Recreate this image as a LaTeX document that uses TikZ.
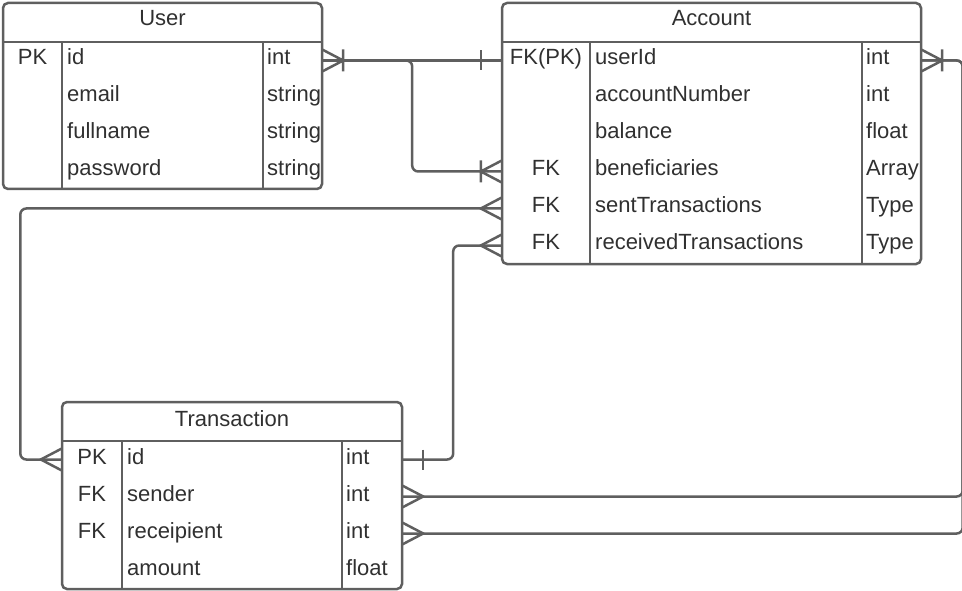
\documentclass[tikz,border=0pt]{standalone}
\usepackage{fontspec}
\setmainfont{Liberation Sans}
\definecolor{linec}{HTML}{5F5F5F}
\definecolor{textc}{HTML}{303030}
\tikzset{
  tbl/.style={draw=linec, line width=2.5pt, rounded corners=5pt},
  sepline/.style={draw=linec, line width=2.5pt},
  conn/.style={draw=linec, line width=2.5pt, rounded corners=6pt},
  endmark/.style={draw=linec, line width=2.5pt},
  rowbox/.style={draw=none, inner sep=0pt, minimum height=37pt},
  hd/.style={text=textc, inner sep=0pt, font=\fontsize{22}{26}\selectfont, anchor=base},
  kc/.style={text=textc, inner sep=0pt, font=\fontsize{22}{26}\selectfont, anchor=base},
  lt/.style={text=textc, inner sep=0pt, font=\fontsize{22}{26}\selectfont, anchor=base west},
  crowmany/.pic={\draw[endmark] (0,-11) -- (21,0) -- (0,11);},
  crowonemany/.pic={\draw[endmark] (0,-11) -- (21,0) -- (0,11) (21,-11) -- (21,11);},
  crowone/.pic={\draw[endmark] (21,-10) -- (21,10);},
}
\begin{document}
\begin{tikzpicture}[x=1pt,y=-1pt]
\useasboundingbox (0,0) rectangle (962,591);
% ---------- User ----------
\node[rowbox, minimum width=319pt] (u1) at (162.5,60.5) {};
\node[rowbox, minimum width=319pt] (u2) at (162.5,97.5) {};
\node[rowbox, minimum width=319pt] (u3) at (162.5,134.5) {};
\node[rowbox, minimum width=319pt] (u4) at (162.5,171.5) {};
\draw[tbl] (3,3) rectangle (322,189);
\draw[sepline] (3,42) -- (322,42) (62,42) -- (62,189) (263,42) -- (263,189);
\node[hd] (uh) at (162.5,26) {User};
\node[kc] (u1k) at (32.5,65) {PK};
\node[lt] (u1n) at (67,65) {id};
\node[lt] (u1t) at (267,65) {int};
\node[lt] (u2n) at (67,102) {email};
\node[lt] (u2t) at (267,102) {string};
\node[lt] (u3n) at (67,139) {fullname};
\node[lt] (u3t) at (267,139) {string};
\node[lt] (u4n) at (67,176) {password};
\node[lt] (u4t) at (267,176) {string};
% ---------- Account ----------
\node[rowbox, minimum width=419pt] (a1) at (711.5,60.5) {};
\node[rowbox, minimum width=419pt] (a2) at (711.5,97.5) {};
\node[rowbox, minimum width=419pt] (a3) at (711.5,134.5) {};
\node[rowbox, minimum width=419pt] (a4) at (711.5,171.5) {};
\node[rowbox, minimum width=419pt] (a5) at (711.5,208.5) {};
\node[rowbox, minimum width=419pt] (a6) at (711.5,245.5) {};
\draw[tbl] (502,3) rectangle (921,264);
\draw[sepline] (502,42) -- (921,42) (590,42) -- (590,264) (862,42) -- (862,264);
\node[hd] (ah) at (711.5,26) {Account};
\node[kc] (a1k) at (546,65) {FK(PK)};
\node[lt] (a1n) at (595,65) {userId};
\node[lt] (a1t) at (866,65) {int};
\node[lt] (a2n) at (595,102) {accountNumber};
\node[lt] (a2t) at (866,102) {int};
\node[lt] (a3n) at (595,139) {balance};
\node[lt] (a3t) at (866,139) {float};
\node[kc] (a4k) at (546,176) {FK};
\node[lt] (a4n) at (595,176) {beneficiaries};
\node[lt] (a4t) at (866,176) {Array};
\node[kc] (a5k) at (546,213) {FK};
\node[lt] (a5n) at (595,213) {sentTransactions};
\node[lt] (a5t) at (866,213) {Type};
\node[kc] (a6k) at (546,250) {FK};
\node[lt] (a6n) at (595,250) {receivedTransactions};
\node[lt] (a6t) at (866,250) {Type};
% ---------- Transaction ----------
\node[rowbox, minimum width=340pt] (t1) at (232,459.5) {};
\node[rowbox, minimum width=340pt] (t2) at (232,496.5) {};
\node[rowbox, minimum width=340pt] (t3) at (232,533.5) {};
\node[rowbox, minimum width=340pt] (t4) at (232,570.5) {};
\draw[tbl] (62,402) rectangle (402,589);
\draw[sepline] (62,441) -- (402,441) (122,441) -- (122,589) (342,441) -- (342,589);
\node[hd] (th) at (232,426) {Transaction};
\node[kc] (t1k) at (92,464) {PK};
\node[lt] (t1n) at (127,464) {id};
\node[lt] (t1t) at (346,464) {int};
\node[kc] (t2k) at (92,501) {FK};
\node[lt] (t2n) at (127,501) {sender};
\node[lt] (t2t) at (346,501) {int};
\node[kc] (t3k) at (92,538) {FK};
\node[lt] (t3n) at (127,538) {receipient};
\node[lt] (t3t) at (346,538) {int};
\node[lt] (t4n) at (127,575) {amount};
\node[lt] (t4t) at (346,575) {float};
% ---------- Connectors ----------
\draw[conn] (u1.east) -- (a1.west);
\draw[conn] (u1.east) -- ([xshift=90pt]u1.east) |- (a4.west);
\draw[conn] (a5.west) -| ([xshift=-41.5pt]t1.west) -- (t1.west);
\draw[conn] (a6.west) -| ([xshift=51pt]t1.east) -- (t1.east);
\draw[conn] (t2.east) -| ([xshift=41.5pt]a1.east) -- (a1.east);
\draw[conn] (t3.east) -| ([xshift=41.5pt]a1.east) -- (a1.east);
% ---------- Ends ----------
\path (u1.east) pic {crowonemany};
\path (a1.west) pic[xscale=-1] {crowone};
\path (a4.west) pic[xscale=-1] {crowonemany};
\path (a5.west) pic[xscale=-1] {crowmany};
\path (a6.west) pic[xscale=-1] {crowmany};
\path (t1.west) pic[xscale=-1] {crowmany};
\path (t1.east) pic {crowone};
\path (t2.east) pic {crowmany};
\path (t3.east) pic {crowmany};
\path (a1.east) pic {crowonemany};
\end{tikzpicture}
\end{document}
